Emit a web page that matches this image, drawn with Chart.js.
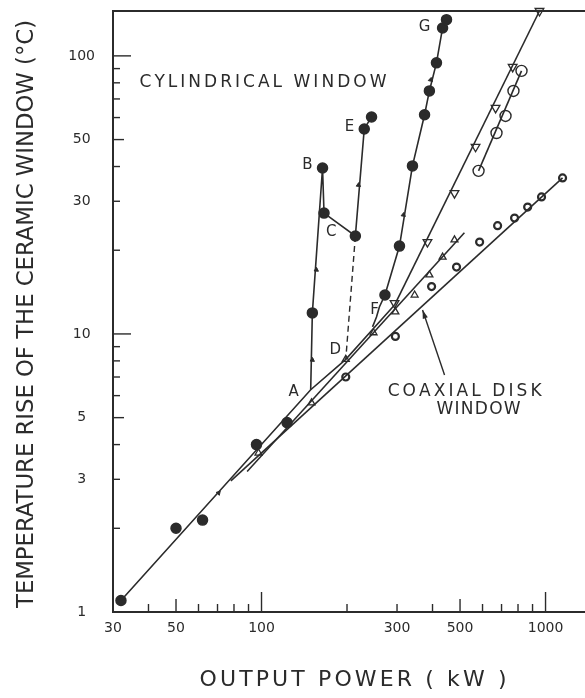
<!DOCTYPE html>
<html>
<head>
<meta charset="utf-8">
<script src="https://cdn.jsdelivr.net/npm/chart.js@4.4.1/dist/chart.umd.min.js"></script>
<style>
  html, body { margin: 0; padding: 0; background: #fff; }
  canvas { display: block; }
</style>
</head>
<body>
<canvas id="chart" width="585" height="698"></canvas>
<script>
'use strict';

// axis ticks
const xTicks = [30, 50, 100, 300, 500, 1000];
const yTicks = [1, 3, 5, 10, 30, 50, 100];

// cylindrical window, measured points (kW, deg C)
const cylFilled = [[32, 1.1], [50, 2.0], [62, 2.14], [96, 4.0], [123, 4.8],
  [151, 11.9], [164, 39.5], [166, 27.2], [214, 22.5], [230, 54.6], [244, 60.3],
  [272, 13.8], [306, 20.7], [340, 40.2], [375, 61.4], [390, 74.8], [413, 94.4], [434, 126], [448, 135]];
const cylFit = [[32, 1.1], [149, 6.3], [198, 8.1], [294, 12.7]];
const cylBranchAE = [[149, 6.3], [151, 11.9], [164, 39.5], [166, 27.2], [214, 22.5], [230, 54.6], [244, 60.3]];
const cylDashCD = [[214, 22.5], [198, 8.1]];
const cylBranchG = [[246, 10.6], [254, 11.5], [260, 12.5], [272, 13.8], [306, 20.7], [340, 40.2],
  [375, 61.4], [390, 74.8], [413, 94.4], [434, 126], [448, 135]];
const flowArrows = [[70.6, 2.68], [151, 8.06], [156, 17.0], [219.5, 34.3], [316, 26.8], [394, 82]];

// triangles and open circles
const upTri = [[97.6, 3.73], [150, 5.65], [198, 8.1], [248, 10.1], [296, 12.0], [346, 13.8], [390, 16.3], [434, 18.9], [478, 21.8]];
const upTriLine = [[89, 3.2], [518, 23.1]];
const downTri = [[294, 12.9], [384, 21.4], [478, 32.1], [567, 47.1], [667, 65], [766, 91.3], [952, 145]];
const downTriLine = [[294, 12.7], [952, 145]];
const openCirc = [[581, 38.6], [672, 52.8], [723, 60.8], [771, 74.8], [823, 88.3]];
const openCircLine = [[581, 38.6], [823, 88.3]];

// coaxial disk window
const coax = [[198, 7.0], [296, 9.8], [397, 14.8], [486, 17.4], [586, 21.4], [678, 24.5], [778, 26.1], [865, 28.6], [968, 31.1], [1148, 36.4]];
const coaxLine = [[78, 2.96], [1148, 36.4]];

const ink = '#2b2b2b';
const font = 'DejaVu Sans';

function pts(list) {
  return list.map(p => ({ x: p[0], y: p[1] }));
}

function line(list, extra) {
  return Object.assign({
    data: pts(list), showLine: true, pointRadius: 0, borderColor: ink, borderWidth: 1.6, clip: false
  }, extra || {});
}

function marks(list, extra) {
  return Object.assign({
    data: pts(list), showLine: false, pointStyle: 'circle', pointRadius: 5,
    pointBackgroundColor: ink, pointBorderColor: ink, pointBorderWidth: 1.5, clip: false
  }, extra || {});
}

// spreads the letters of a line over a given width
function spreadText(ctx, text, cx, cy, width) {
  const chars = [...text];
  const widths = chars.map(ch => ctx.measureText(ch).width);
  const total = widths.reduce((s, w) => s + w, 0);
  const gap = (width - total) / (chars.length - 1);
  let px = cx - width / 2;
  ctx.textAlign = 'left';
  ctx.textBaseline = 'middle';
  chars.forEach((ch, i) => {
    ctx.fillText(ch, px, cy);
    px += widths[i] + gap;
  });
}

// letters and notes placed at data coordinates
const pointNames = [['A', 129.7, 6.18], ['B', 145, 40.5], ['C', 176, 23.3], ['D', 182, 8.76],
  ['E', 204, 55.6], ['F', 250, 12.2], ['G', 375, 127]];
const notes = [['CYLINDRICAL WINDOW', 101.2, 80, 247], ['COAXIAL DISK', 519, 6.18, 154], ['WINDOW', 581, 5.33, 84]];

const decor = {
  id: 'decor',
  afterDraw(chart) {
    const { ctx, chartArea: a, scales: { x, y } } = chart;
    ctx.save();
    ctx.strokeStyle = ink;
    ctx.fillStyle = ink;

    // top frame line
    ctx.lineWidth = 2;
    ctx.beginPath();
    ctx.moveTo(a.left, a.top);
    ctx.lineTo(a.right, a.top);
    ctx.stroke();

    // inward tick marks
    ctx.lineWidth = 1.4;
    for (let dec = 10; dec <= 1000; dec *= 10) {
      for (let m = 1; m <= 9; m++) {
        const v = m * dec;
        if (v < 30 || v > 1000) continue;
        const px = x.getPixelForValue(v);
        const len = m === 1 ? 20 : (m === 5 ? 13 : 8);
        ctx.beginPath();
        ctx.moveTo(px, a.bottom);
        ctx.lineTo(px, a.bottom - len);
        ctx.stroke();
      }
    }
    for (let dec = 1; dec <= 100; dec *= 10) {
      for (let m = 1; m <= 9; m++) {
        const v = m * dec;
        if (v > 145) continue;
        const py = y.getPixelForValue(v);
        const len = m === 1 ? 18 : (m === 5 ? 11 : 7);
        ctx.beginPath();
        ctx.moveTo(a.left, py);
        ctx.lineTo(a.left + len, py);
        ctx.stroke();
      }
    }

    // arrow to the coaxial line
    const x0 = x.getPixelForValue(441), y0 = y.getPixelForValue(7.12);
    const x1 = x.getPixelForValue(369), y1 = y.getPixelForValue(12.2);
    ctx.lineWidth = 1.4;
    ctx.beginPath();
    ctx.moveTo(x0, y0);
    ctx.lineTo(x1, y1);
    ctx.stroke();
    const ang = Math.atan2(y1 - y0, x1 - x0);
    ctx.beginPath();
    ctx.moveTo(x1, y1);
    ctx.lineTo(x1 - 9 * Math.cos(ang - 0.3), y1 - 9 * Math.sin(ang - 0.3));
    ctx.lineTo(x1 - 9 * Math.cos(ang + 0.3), y1 - 9 * Math.sin(ang + 0.3));
    ctx.closePath();
    ctx.fill();

    // point letters
    ctx.font = '15px "' + font + '"';
    ctx.textAlign = 'center';
    ctx.textBaseline = 'middle';
    pointNames.forEach(([t, vx, vy]) => ctx.fillText(t, x.getPixelForValue(vx), y.getPixelForValue(vy)));

    ctx.font = '17px "' + font + '"';
    notes.forEach(([t, vx, vy, w]) => spreadText(ctx, t, x.getPixelForValue(vx), y.getPixelForValue(vy), w));

    // axis titles
    ctx.font = '22px "' + font + '"';
    spreadText(ctx, 'OUTPUT POWER ( kW )', 353, 680, 307);

    ctx.save();
    ctx.translate(27, 314);
    ctx.rotate(-Math.PI / 2);
    ctx.font = '23px "' + font + '"';
    const title = 'TEMPERATURE RISE OF THE CERAMIC WINDOW (°C)';
    const tw = ctx.measureText(title).width;
    ctx.scale(588 / tw, 1);
    ctx.textAlign = 'center';
    ctx.textBaseline = 'middle';
    ctx.fillText(title, 0, 0);
    ctx.restore();

    ctx.restore();
  }
};

const datasets = [
  line(cylFit),
  line(cylBranchAE),
  line(cylDashCD, { borderDash: [6, 4], borderWidth: 1.4 }),
  line(cylBranchG),
  line(upTriLine),
  line(downTriLine),
  line(openCircLine),
  line(coaxLine),
  marks(cylFilled),
  marks(flowArrows, { pointStyle: 'triangle', pointRadius: 2.5, pointBorderWidth: 1,
    pointRotation: [42, 4, 4, 5, 9, 13] }),
  marks(upTri, { pointStyle: 'triangle', pointRadius: 4, pointBackgroundColor: '#fff', pointBorderWidth: 1.3 }),
  marks(downTri, { pointStyle: 'triangle', pointRadius: 5, pointRotation: 180, pointBackgroundColor: '#fff', pointBorderWidth: 1.3 }),
  marks(openCirc, { pointRadius: 5.5, pointBackgroundColor: '#fff', pointBorderWidth: 1.4 }),
  marks(coax, { pointRadius: 3.5, pointBackgroundColor: '#fff', pointBorderWidth: 2.2 })
];

const tickFont = { family: font, size: 14 };

new Chart(document.getElementById('chart'), {
  type: 'scatter',
  data: { datasets: datasets },
  options: {
    responsive: false,
    animation: false,
    events: [],
    layout: { autoPadding: false, padding: { top: 11, right: 0, bottom: 0, left: 0 } },
    plugins: { legend: { display: false }, tooltip: { enabled: false } },
    scales: {
      x: {
        type: 'logarithmic',
        min: 30,
        max: 1377,
        afterBuildTicks: s => { s.ticks = xTicks.map(v => ({ value: v })); },
        afterFit: s => { s.height = 86; s.paddingLeft = 0; s.paddingRight = 0; },
        grid: { display: false, drawTicks: false },
        border: { display: true, color: ink, width: 2 },
        ticks: { autoSkip: false, maxRotation: 0, padding: 8, color: ink, font: tickFont, callback: v => String(v) }
      },
      y: {
        type: 'logarithmic',
        min: 1,
        max: 145,
        afterBuildTicks: s => { s.ticks = yTicks.map(v => ({ value: v })); },
        afterFit: s => { s.width = 113; s.paddingTop = 0; s.paddingBottom = 0; },
        grid: { display: false, drawTicks: false },
        border: { display: true, color: ink, width: 2 },
        ticks: { autoSkip: false, crossAlign: 'center', padding: 18, color: ink, font: tickFont, callback: v => String(v) }
      }
    }
  },
  plugins: [decor]
});
</script>
</body>
</html>
